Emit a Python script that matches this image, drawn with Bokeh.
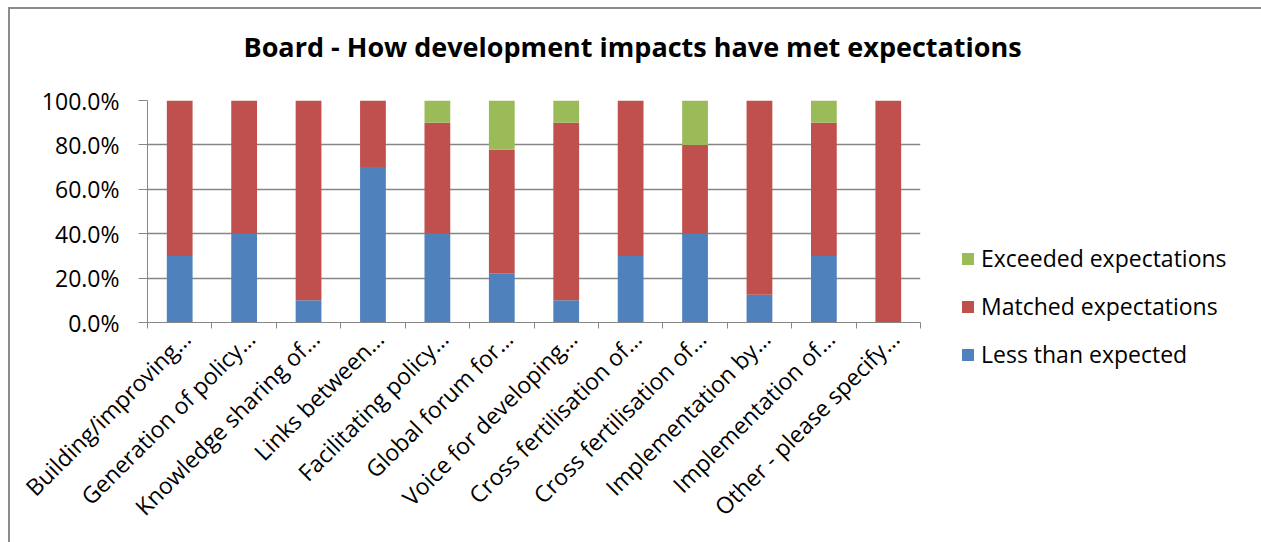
import math
from bokeh.plotting import figure
from bokeh.models import FixedTicker, NumeralTickFormatter, Range1d, Legend, LegendItem, Title
from bokeh.embed import file_html
from bokeh.resources import INLINE

title_text = "Board - How development impacts have met expectations"
categories = ["Building/improving…", "Generation of policy…", "Knowledge sharing of…",
              "Links between…", "Facilitating policy…", "Global forum for…",
              "Voice for developing…", "Cross fertilisation of…", "Cross fertilisation of…",
              "Implementation by…", "Implementation of…", "Other - please specify…"]
less = [0.30, 0.40, 0.10, 0.70, 0.40, 0.222, 0.10, 0.30, 0.40, 0.125, 0.30, 0.0]
matched = [0.70, 0.60, 0.90, 0.30, 0.50, 0.556, 0.80, 0.70, 0.40, 0.875, 0.60, 1.0]
exceeded = [0.0, 0.0, 0.0, 0.0, 0.10, 0.222, 0.10, 0.0, 0.20, 0.0, 0.10, 0.0]
series = ["Less than expected", "Matched expectations", "Exceeded expectations"]
colors = ["#4F81BD", "#C0504D", "#9BBB59"]
y_ticks = [0.0, 0.2, 0.4, 0.6, 0.8, 1.0]

FONT = "Open Sans"
GRAY = "#868686"

n = len(categories)
xs = [i + 0.5 for i in range(n)]
label_pos = [i + 0.6 for i in range(n)]
data = {"x": xs, series[0]: less, series[1]: matched, series[2]: exceeded}

p = figure(frame_width=773, frame_height=222, output_backend="svg", toolbar_location=None,
           x_range=Range1d(0, n), y_range=Range1d(0, 1),
           min_border_left=137, min_border_right=340, min_border_top=91, min_border_bottom=222)
try:
    p.title = None
except Exception:
    p.title.text = ""
p.styles = {"margin-left": "8px", "margin-top": "7px",
            "border-left": "2px solid #8c8c8c", "border-top": "2px solid #8c8c8c",
            "border-right": "2px solid #8c8c8c", "box-sizing": "border-box"}
p.outline_line_color = None
p.background_fill_color = "white"
p.border_fill_color = "white"

renderers = p.vbar_stack(series, x="x", width=0.4, color=colors, line_color=None, source=data)

# spacer panel between the title and the frame, then the title itself
p.add_layout(Title(text=" ", standoff=30, text_font_size="2px"), "above")
p.add_layout(Title(text=title_text, align="left", vertical_align="top", offset=96, standoff=0,
                   text_font=FONT, text_font_size="27px", text_font_style="bold",
                   text_color="black"), "above")

# y axis
p.yaxis.ticker = FixedTicker(ticks=y_ticks)
p.yaxis.formatter = NumeralTickFormatter(format="0.0%")
p.yaxis.axis_line_color = GRAY
p.yaxis.major_tick_line_color = GRAY
p.yaxis.major_tick_out = 9
p.yaxis.major_tick_in = 0
p.yaxis.minor_tick_line_color = None
p.yaxis.major_label_standoff = 19
p.yaxis.major_label_text_font = FONT
p.yaxis.major_label_text_font_size = "23px"
p.yaxis.major_label_text_color = "black"

# x axis: labels near centres, ticks at boundaries
p.xaxis.ticker = FixedTicker(ticks=label_pos, minor_ticks=list(range(n + 1)))
p.xaxis.major_label_overrides = {x: c for x, c in zip(label_pos, categories)}
p.xaxis.major_tick_line_color = None
p.xaxis.major_tick_out = 0
p.xaxis.major_tick_in = 0
p.xaxis.minor_tick_line_color = GRAY
p.xaxis.minor_tick_out = 6
p.xaxis.minor_tick_in = 0
p.xaxis.axis_line_color = GRAY
p.xaxis.major_label_orientation = math.pi / 4
p.xaxis.major_label_standoff = 6
p.xaxis.major_label_text_font = FONT
p.xaxis.major_label_text_font_size = "23px"
p.xaxis.major_label_text_color = "black"

p.xgrid.grid_line_color = None
p.ygrid.ticker = FixedTicker(ticks=y_ticks)
p.ygrid.grid_line_color = GRAY
p.ygrid.grid_line_width = 1.5

# legend
items = [LegendItem(label=series[i], renderers=[renderers[i]]) for i in (2, 1, 0)]
legend = Legend(items=items, location=(40, -48), padding=0, margin=0,
                border_line_color=None, background_fill_alpha=0,
                glyph_width=15, glyph_height=15, label_standoff=6,
                label_height=24, spacing=16,
                label_text_font=FONT, label_text_font_size="23px", label_text_color="black")
p.add_layout(legend, "right")

open("out.html", "w").write(file_html(p, INLINE))
